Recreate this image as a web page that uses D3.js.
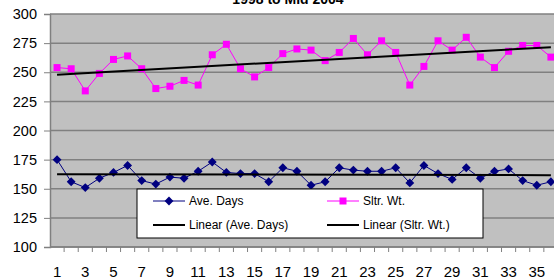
<!DOCTYPE html>
<html>
<head>
<meta charset="utf-8">
<script src="https://cdn.jsdelivr.net/npm/d3@7"></script>
<style>
  body { margin: 0; background: #fff; }
  svg { display: block; font-family: "Liberation Sans", Arial, sans-serif; }
</style>
</head>
<body>
<div id="chart"></div>
<script>
// chart data
var periods = d3.range(1, 37);
var aveDays = [175, 156, 151, 159, 164, 170, 157, 154, 160, 159, 165, 173,
               164, 163, 163, 156, 168, 165, 153, 156, 168, 166, 165, 165,
               168, 155, 170, 163, 158, 168, 159, 165, 167, 157, 153, 156];
var sltrWt  = [254, 253, 234, 249, 261, 264, 253, 236, 238, 243, 239, 265,
               274, 253, 246, 254, 266, 270, 269, 260, 267, 279, 265, 277,
               267, 239, 255, 277, 269, 280, 263, 254, 268, 273, 273, 263];
var yTicks = [100, 125, 150, 175, 200, 225, 250, 275, 300];
var titleText = "1998 to Mid 2004";

var width = 554, height = 279;
var margin = {left: 50, top: 14, bottom: 32};
var step = 14.11;
var plotRight = margin.left + step * periods.length;

var svg = d3.select('#chart').append('svg')
    .attr('width', width)
    .attr('height', height);

// scales
var x = d3.scaleBand()
    .domain(periods)
    .range([margin.left, plotRight]);
var y = d3.scaleLinear()
    .domain([100, 300])
    .range([height - margin.bottom, margin.top]);

// plot background
svg.append('rect')
    .attr('x', margin.left)
    .attr('y', y(300))
    .attr('width', plotRight - margin.left)
    .attr('height', y(100) - y(300))
    .attr('fill', '#c0c0c0');

// gridlines
svg.append('g')
  .selectAll('line')
  .data(yTicks)
  .enter().append('line')
    .attr('x1', margin.left)
    .attr('x2', plotRight)
    .attr('y1', d => y(d))
    .attr('y2', d => y(d))
    .attr('stroke', '#808080')
    .attr('stroke-width', 1.5);

// y axis
var yAxis = svg.append('g')
    .attr('transform', 'translate(' + margin.left + ',0)')
    .call(d3.axisLeft(y).tickValues(yTicks).tickSize(6).tickPadding(7));
yAxis.select('.domain').attr('stroke', '#808080').attr('stroke-width', 1.5);
yAxis.selectAll('.tick line').attr('stroke', '#808080');
yAxis.selectAll('text')
    .style('font-size', '14.5px')
    .style('font-family', '"Liberation Sans", Arial, sans-serif')
    .attr('fill', '#000');

// x axis, ticks on category boundaries
var xAxisG = svg.append('g')
    .attr('transform', 'translate(0,' + y(100) + ')');
xAxisG.append('line')
    .attr('x1', margin.left).attr('x2', plotRight)
    .attr('stroke', '#808080').attr('stroke-width', 1.5);
xAxisG.selectAll('line.tk')
  .data(periods)
  .enter().append('line')
    .attr('class', 'tk')
    .attr('x1', d => x(d) + x.bandwidth())
    .attr('x2', d => x(d) + x.bandwidth())
    .attr('y1', 0).attr('y2', 5)
    .attr('stroke', '#808080');
xAxisG.selectAll('text')
  .data(periods.filter(d => d % 2 === 1))
  .enter().append('text')
    .attr('x', d => x(d) + x.bandwidth() / 2)
    .attr('y', 30)
    .attr('text-anchor', 'middle')
    .style('font-size', '15px')
    .text(d => d);

// linear trend
function trend(vals) {
  var n = vals.length;
  var mx = d3.mean(periods), my = d3.mean(vals);
  var sxy = 0, sxx = 0;
  periods.forEach(function(p, i) {
    sxy += (p - mx) * (vals[i] - my);
    sxx += (p - mx) * (p - mx);
  });
  var b = sxy / sxx, a = my - b * mx;
  return [periods[0], periods[n - 1]].map(p => ({p: p, v: a + b * p}));
}

var cx = d => x(d) + x.bandwidth() / 2;
var line = d3.line().x(d => cx(d.p)).y(d => y(d.v));

var pinkData = periods.map((p, i) => ({p: p, v: sltrWt[i]}));
var blueData = periods.map((p, i) => ({p: p, v: aveDays[i]}));

svg.append('path')
    .attr('d', line(pinkData))
    .attr('fill', 'none')
    .attr('stroke', '#ff00ff')
    .attr('stroke-width', 1);

svg.append('path')
    .attr('d', line(blueData))
    .attr('fill', 'none')
    .attr('stroke', '#000080')
    .attr('stroke-width', 1);

svg.selectAll('rect.sq')
  .data(pinkData)
  .enter().append('rect')
    .attr('class', 'sq')
    .attr('x', d => cx(d.p) - 3.5)
    .attr('y', d => y(d.v) - 3.5)
    .attr('width', 7).attr('height', 7)
    .attr('fill', '#ff00ff');

var diamond = d3.symbol().type(d3.symbolDiamond2).size(50);
svg.selectAll('path.dm')
  .data(blueData)
  .enter().append('path')
    .attr('class', 'dm')
    .attr('transform', d => 'translate(' + cx(d.p) + ',' + y(d.v) + ')')
    .attr('d', diamond)
    .attr('fill', '#000080');

[trend(sltrWt), trend(aveDays)].forEach(function(t) {
  svg.append('path')
      .attr('d', line(t))
      .attr('fill', 'none')
      .attr('stroke', '#000')
      .attr('stroke-width', 2);
});

// title (mostly clipped off the top)
svg.append('text')
    .attr('x', 288)
    .attr('y', 4)
    .attr('text-anchor', 'middle')
    .style('font-size', '14px')
    .style('font-weight', 'bold')
    .text(titleText);

// legend
var lg = svg.append('g').attr('transform', 'translate(137,189)');
lg.append('rect')
    .attr('width', 346).attr('height', 49)
    .attr('fill', '#fff')
    .attr('stroke', '#000')
    .attr('stroke-width', 1);

var legendItems = [
  {label: 'Ave. Days', color: '#000080', mark: 'diamond', x: 16, y: 12},
  {label: 'Sltr. Wt.', color: '#ff00ff', mark: 'square', x: 190, y: 12},
  {label: 'Linear (Ave. Days)', color: '#000', mark: 'none', x: 16, y: 36},
  {label: 'Linear (Sltr. Wt.)', color: '#000', mark: 'none', x: 190, y: 36}
];

legendItems.forEach(function(it) {
  var g = lg.append('g').attr('transform', 'translate(' + it.x + ',' + it.y + ')');
  g.append('line')
      .attr('x1', 0).attr('x2', 32)
      .attr('stroke', it.color)
      .attr('stroke-width', it.mark === 'none' ? 2 : 1);
  if (it.mark === 'diamond') {
    g.append('path').attr('transform', 'translate(16,0)').attr('d', diamond).attr('fill', it.color);
  } else if (it.mark === 'square') {
    g.append('rect').attr('x', 12.5).attr('y', -3.5).attr('width', 7).attr('height', 7).attr('fill', it.color);
  }
  g.append('text')
      .attr('x', 36)
      .attr('dy', '0.35em')
      .style('font-size', '12px')
      .text(it.label);
});
</script>
</body>
</html>
